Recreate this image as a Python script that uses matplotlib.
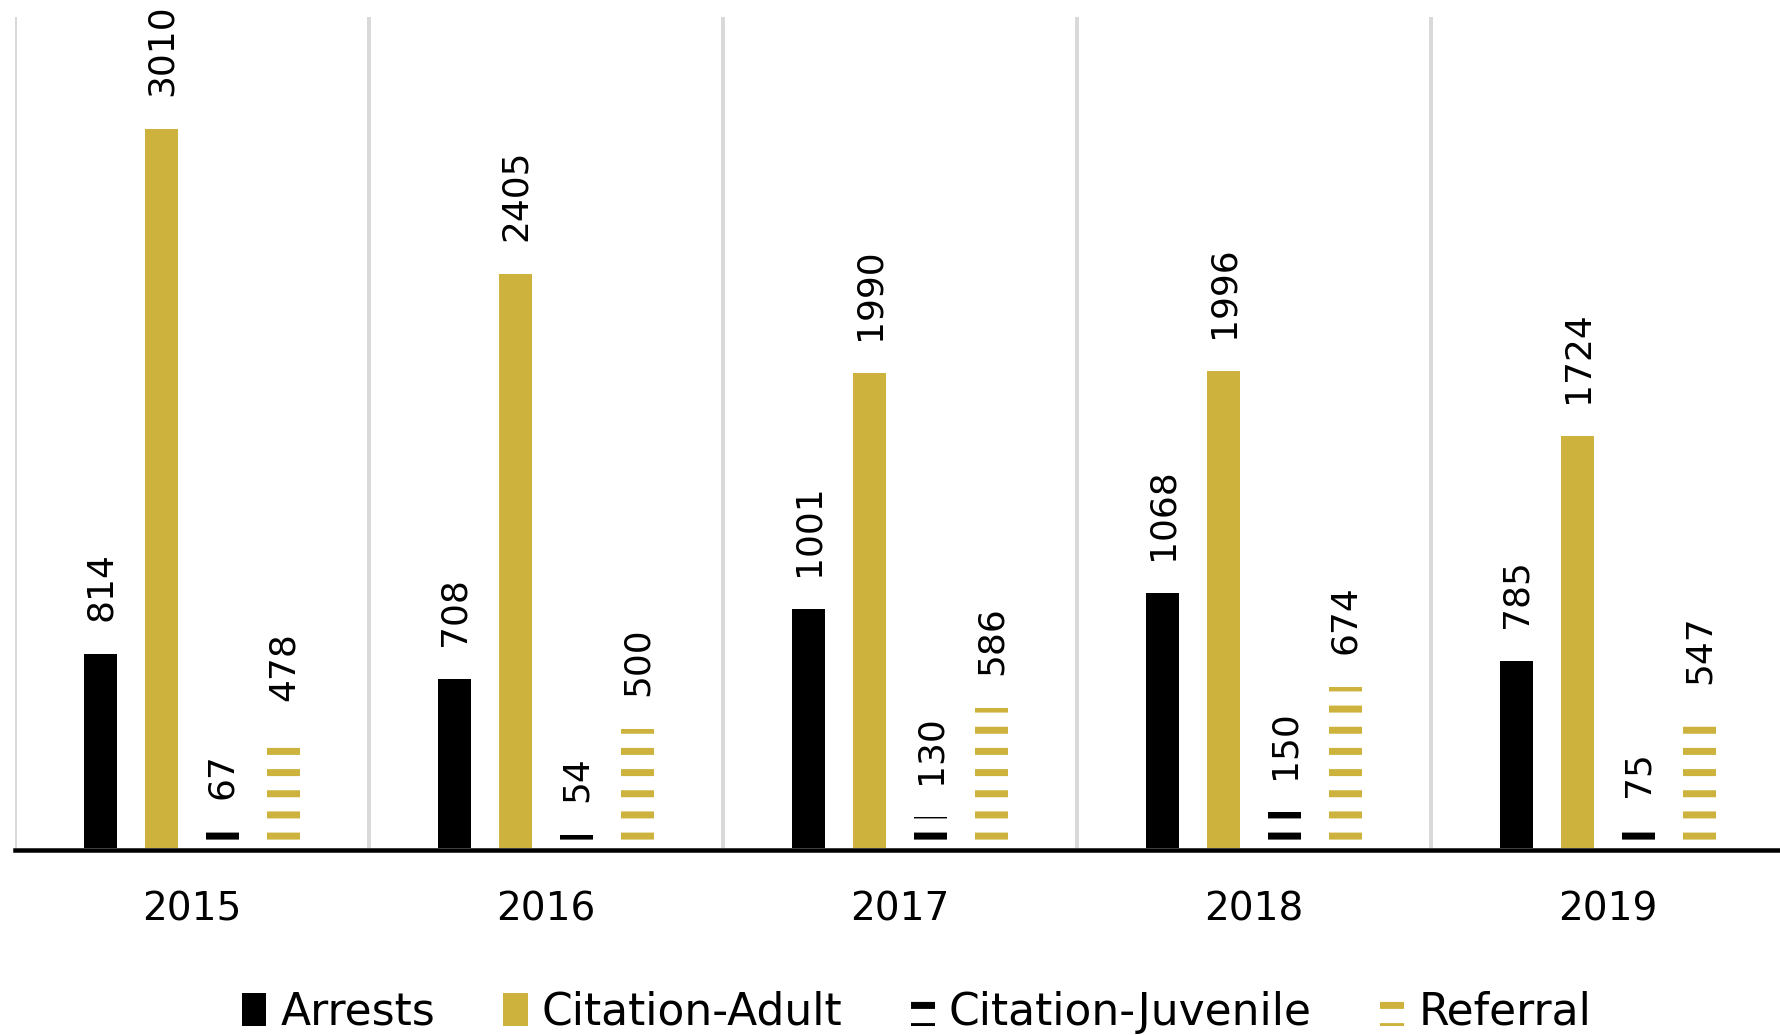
import numpy as np
import matplotlib
matplotlib.use('Agg')
import matplotlib.pyplot as plt

years = ['2015', '2016', '2017', '2018', '2019']
series = ['Arrests', 'Citation-Adult', 'Citation-Juvenile', 'Referral']
arrests = [814, 708, 1001, 1068, 785]
cit_adult = [3010, 2405, 1990, 1996, 1724]
cit_juv = [67, 54, 130, 150, 75]
referral = [478, 500, 586, 674, 547]

dpi = 127
PT = 72 / dpi  # pixels -> points

plt.rcParams['font.family'] = ['DejaVu Sans']
plt.rcParams['hatch.linewidth'] = 7 * PT

gold = '#CDB33D'
W, H = 1780, 1035
fig = plt.figure(figsize=((W + 0.01) / dpi, (H + 0.01) / dpi), dpi=dpi)
ax = fig.add_axes([15 / W, (H - 848) / H, 1770 / W, 831 / H])

# baseline first: moving the spine resets the tick styling
for s in ['top', 'left', 'right']:
    ax.spines[s].set_visible(False)
ax.spines['bottom'].set_position(('outward', 2.5 * PT))
ax.spines['bottom'].set_linewidth(4.5 * PT)
ax.spines['bottom'].set_zorder(4)

x = np.arange(len(years))
w = 0.093
step = 0.172
styles = [
    dict(color='black'),
    dict(color=gold),
    dict(facecolor='white', edgecolor='black', hatch='-', linewidth=0),
    dict(facecolor='white', edgecolor=gold, hatch='-', linewidth=0),
]
data = [arrests, cit_adult, cit_juv, referral]
for i, (name, vals, st) in enumerate(zip(series, data, styles)):
    pos = x + (i - 1.5) * step
    ax.bar(pos, vals, w, label=name, zorder=3, **st)
    for p, v in zip(pos, vals):
        ax.annotate(str(v), (p, v), xytext=(0, 33 * PT), textcoords='offset points',
                    rotation=90, ha='center', va='bottom', fontsize=36 * PT,
                    annotation_clip=False)

ax.set_xlim(-0.5, len(years) - 0.5)
ax.set_ylim(0, 3480)
ax.set_xticks(x)
ax.set_xticklabels(years)
ax.set_xticks(np.arange(-0.5, len(years)), minor=True)
ax.tick_params(axis='x', which='both', length=0, pad=40 * PT, labelsize=39 * PT)
ax.set_yticks([])
ax.grid(which='minor', axis='x', color='#d9d9d9', linewidth=4 * PT, zorder=0)

fig.legend(loc='center', bbox_to_anchor=(0.515, 0.022), ncol=4, frameon=False,
           fontsize=44 * PT, handlelength=0.55, handleheight=0.77,
           handletextpad=0.32, columnspacing=1.55)

fig.savefig('out.png', dpi=dpi)
